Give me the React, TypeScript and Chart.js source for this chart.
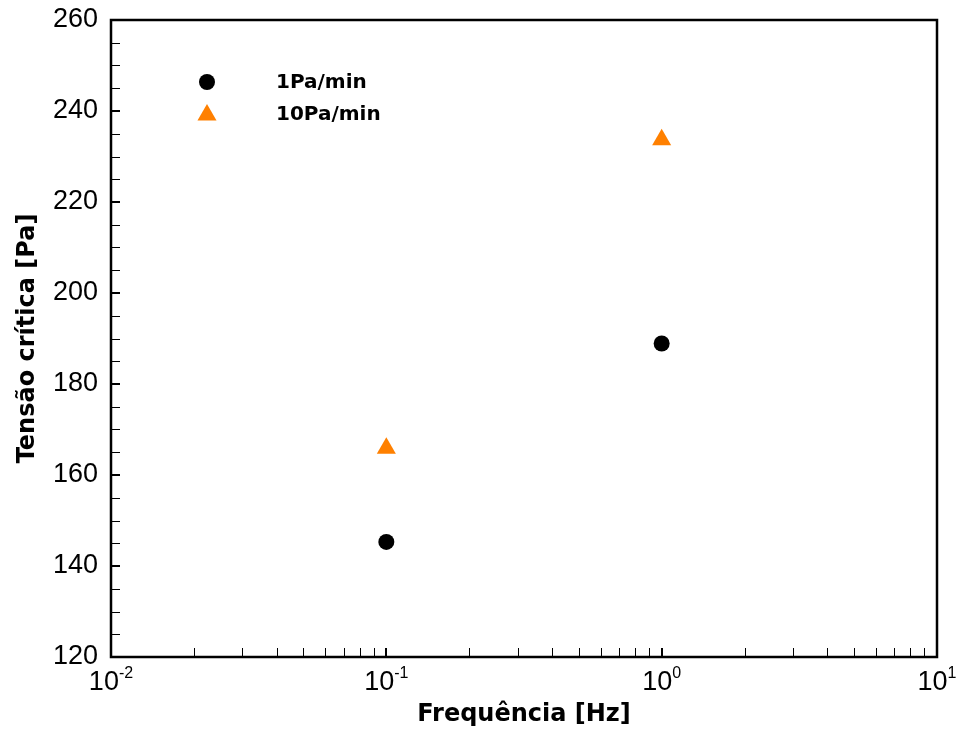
import { useEffect, useRef } from 'react';
import { Chart, registerables } from 'chart.js';

Chart.register(...registerables);

// ---- data ----
const frequencies = [0.1, 1];
const series1Label = '1Pa/min';
const series1Values = [145.3, 188.9];
const series2Label = '10Pa/min';
const series2Values = [165.9, 233.7];

const xDecades = [-2, -1, 0, 1];
const yMin = 120;
const yMax = 260;
const yStep = 20;
const yMinorStep = 5;

const xTitle = 'Frequência [Hz]';
const yTitle = 'Tensão crítica [Pa]';

const ORANGE = '#FF8000';
const TICK_FONT = "'Liberation Sans', Arial, sans-serif";
const BOLD_FONT = "'DejaVu Sans', Verdana, sans-serif";

function drawMarker(ctx: CanvasRenderingContext2D, style: string, x: number, y: number, r: number, color: string) {
  ctx.fillStyle = color;
  ctx.beginPath();
  if (style === 'triangle') {
    let rad = 0;
    ctx.moveTo(x + Math.sin(rad) * r, y - Math.cos(rad) * r);
    rad += (2 * Math.PI) / 3;
    ctx.lineTo(x + Math.sin(rad) * r, y - Math.cos(rad) * r);
    rad += (2 * Math.PI) / 3;
    ctx.lineTo(x + Math.sin(rad) * r, y - Math.cos(rad) * r);
    ctx.closePath();
  } else {
    ctx.arc(x, y, r, 0, Math.PI * 2);
  }
  ctx.fill();
}

const framePlugin = {
  id: 'framePlugin',
  afterDraw(chart: any) {
    const { ctx, chartArea: a, scales } = chart;
    const xs = scales.x;
    const ys = scales.y;
    const tickLen = 9;
    ctx.save();
    ctx.strokeStyle = '#000';

    // y ticks (inward)
    for (let v = yMin; v <= yMax; v += yMinorStep) {
      const major = (v - yMin) % yStep === 0;
      const py = ys.getPixelForValue(v);
      const y = major ? Math.round(py) : Math.round(py) + 0.5;
      ctx.lineWidth = major ? 2 : 1;
      ctx.beginPath();
      ctx.moveTo(a.left, y);
      ctx.lineTo(a.left + tickLen, y);
      ctx.stroke();
    }

    // x ticks (inward, log minor)
    for (let i = 0; i < xDecades.length - 1; i++) {
      const base = Math.pow(10, xDecades[i]);
      for (let m = 1; m <= 9; m++) {
        const v = base * m;
        const px = xs.getPixelForValue(v);
        const major = m === 1;
        const x = major ? Math.round(px) : Math.round(px) + 0.5;
        ctx.lineWidth = major ? 2 : 1;
        ctx.beginPath();
        ctx.moveTo(x, a.bottom);
        ctx.lineTo(x, a.bottom - tickLen);
        ctx.stroke();
      }
    }

    // frame
    ctx.lineWidth = 2.5;
    ctx.strokeRect(a.left, a.top, a.right - a.left, a.bottom - a.top);

    // x tick labels with superscript exponents
    ctx.fillStyle = '#000';
    ctx.textBaseline = 'alphabetic';
    ctx.textAlign = 'left';
    const baseFont = `27px ${TICK_FONT}`;
    const expFont = `16px ${TICK_FONT}`;
    for (const d of xDecades) {
      const px = xs.getPixelForValue(Math.pow(10, d));
      const expText = d < 0 ? '-' + Math.abs(d) : String(d);
      ctx.font = baseFont;
      const w1 = ctx.measureText('10').width;
      ctx.font = expFont;
      const w2 = ctx.measureText(expText).width;
      const start = px - (w1 + w2) / 2;
      const baseY = a.bottom + 33;
      ctx.font = baseFont;
      ctx.fillText('10', start, baseY);
      ctx.font = expFont;
      ctx.fillText(expText, start + w1, baseY - 12);
    }

    // legend
    const datasets = chart.data.datasets;
    const lx = a.left + 96;
    const ly0 = a.top + 62;
    const rowGap = 32;
    ctx.font = `bold 20px ${BOLD_FONT}`;
    ctx.textBaseline = 'middle';
    datasets.forEach((ds: any, i: number) => {
      const y = ly0 + i * rowGap;
      drawMarker(ctx, ds.pointStyle, lx, ds.pointStyle === 'triangle' ? y + 1 : y, ds.pointRadius, ds.backgroundColor);
      ctx.fillStyle = '#000';
      ctx.fillText(ds.label, a.left + 165, y + 1);
    });

    ctx.restore();
  },
};

export default function App() {
  const canvasRef = useRef<HTMLCanvasElement | null>(null);

  useEffect(() => {
    if (!canvasRef.current) return;
    const chart = new Chart(canvasRef.current, {
      type: 'scatter',
      data: {
        datasets: [
          {
            label: series1Label,
            data: frequencies.map((f, i) => ({ x: f, y: series1Values[i] })),
            pointStyle: 'circle',
            pointRadius: 8,
            pointHoverRadius: 8,
            backgroundColor: '#000000',
            borderColor: '#000000',
            borderWidth: 0,
            showLine: false,
          },
          {
            label: series2Label,
            data: frequencies.map((f, i) => ({ x: f, y: series2Values[i] })),
            pointStyle: 'triangle',
            pointRadius: 11,
            pointHoverRadius: 11,
            backgroundColor: ORANGE,
            borderColor: ORANGE,
            borderWidth: 0,
            showLine: false,
          },
        ],
      },
      options: {
        responsive: false,
        animation: false,
        events: [],
        layout: { padding: { left: 0, top: 20, right: 22, bottom: 0 } },
        plugins: {
          legend: { display: false },
          tooltip: { enabled: false },
          title: { display: false },
        },
        scales: {
          x: {
            type: 'logarithmic',
            min: 0.01,
            max: 10,
            grid: { display: false, drawTicks: false },
            border: { display: false },
            ticks: { display: false },
            title: {
              display: true,
              text: xTitle,
              color: '#000',
              font: { family: BOLD_FONT, size: 24, weight: 'bold' },
              padding: { top: 0, bottom: 0 },
            },
            afterFit: (scale: any) => {
              scale.height = 72;
              scale.paddingLeft = 0;
              scale.paddingRight = 0;
            },
          },
          y: {
            type: 'linear',
            min: yMin,
            max: yMax,
            grid: { display: false, drawTicks: false },
            border: { display: false },
            ticks: {
              stepSize: yStep,
              color: '#000',
              padding: 13,
              font: { family: TICK_FONT, size: 27 },
            },
            title: {
              display: true,
              text: yTitle,
              color: '#000',
              font: { family: BOLD_FONT, size: 24, weight: 'bold' },
              padding: { top: 13, bottom: 0 },
            },
            afterFit: (scale: any) => {
              scale.width = 111;
              scale.paddingTop = 0;
              scale.paddingBottom = 0;
            },
          },
        },
      },
      plugins: [framePlugin],
    } as any);
    return () => chart.destroy();
  }, []);

  return (
    <div style={{ position: 'fixed', left: 0, top: 0, width: 959, height: 729, background: '#fff' }}>
      <canvas ref={canvasRef} width={959} height={729} style={{ display: 'block' }} />
    </div>
  );
}
